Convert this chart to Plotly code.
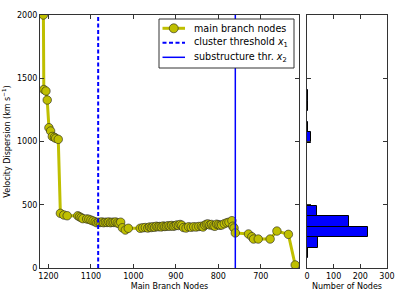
import plotly.graph_objects as go

# Main branch nodes (node index, velocity dispersion km/s)
node_x = [1212, 1211, 1206, 1203, 1199, 1195, 1191, 1186, 1183, 1177,
          1172, 1164, 1156, 1131, 1127, 1123, 1119, 1110, 1105, 1100,
          1095, 1090, 1086, 1082, 1078, 1074, 1070, 1066, 1062, 1058,
          1054, 1050, 1046, 1042, 1038, 1034, 1030, 1026, 1019, 1012,
          984, 978, 972, 966, 962, 958, 954, 950, 946, 942,
          938, 934, 930, 926, 922, 918, 914, 910, 906, 902,
          898, 894, 890, 886, 882, 876, 870, 864, 858, 852,
          846, 840, 836, 832, 828, 824, 820, 816, 812, 808,
          804, 800, 796, 792, 786, 780, 775, 768, 766, 763,
          760, 729, 721, 717, 706, 678, 662, 635, 619]
node_y = [2000, 1411, 1399, 1328, 1109, 1083, 1040, 1033, 1025, 1017,
          432, 419, 413, 413, 405, 398, 390, 388, 385, 378,
          372, 365, 358, 362, 360, 364, 358, 362, 360, 364,
          358, 362, 360, 364, 356, 352, 362, 318, 300, 314,
          314, 318, 320, 316, 324, 320, 326, 322, 330, 326,
          328, 325, 332, 328, 330, 334, 330, 336, 330, 334,
          340, 336, 344, 338, 320, 316, 326, 322, 326, 324,
          328, 330, 324, 338, 346, 348, 340, 344, 334, 330,
          346, 342, 338, 340, 350, 358, 362, 374, 330, 316,
          277, 269, 247, 229, 229, 229, 292, 266, 24]

cluster_threshold = 1083
substructure_threshold = 760

# Histogram of all nodes
hist_lo = [-5, 78, 161, 244, 327, 410, 991, 1074, 1240, 1323]
hist_counts = [1, 3, 41, 230, 159, 37, 16, 2, 2, 2]
bin_width = 83

legend_labels = ["main branch nodes",
                 "cluster threshold <i>x</i><sub>1</sub>",
                 "substructure thr. <i>x</i><sub>2</sub>"]

FONT = "DejaVu Sans"
AX = "#333333"
YEL = "#bfbf00"
BLUE = "#0000ff"
W, H = 399, 299


def px(x):
    return x / W


def py(y):
    return 1 - y / H


fig = go.Figure()

fig.add_trace(go.Scatter(
    x=node_x, y=node_y, mode="lines+markers", name=legend_labels[0],
    line=dict(color=YEL, width=3),
    marker=dict(color=YEL, size=8.5, line=dict(color="#222222", width=0.6)),
    xaxis="x", yaxis="y", showlegend=False))

fig.add_trace(go.Scatter(
    x=[cluster_threshold, cluster_threshold], y=[0, 2000], mode="lines",
    name=legend_labels[1],
    line=dict(color=BLUE, width=2, dash="4px,2.5px"),
    xaxis="x", yaxis="y", showlegend=False))

fig.add_trace(go.Scatter(
    x=[substructure_threshold, substructure_threshold], y=[0, 2000], mode="lines",
    name=legend_labels[2],
    line=dict(color=BLUE, width=1.5),
    xaxis="x", yaxis="y", showlegend=False))

fig.add_trace(go.Bar(
    x=hist_counts, y=[lo + bin_width / 2 for lo in hist_lo], width=bin_width,
    orientation="h", marker=dict(color=BLUE, line=dict(color="black", width=1)),
    showlegend=False, xaxis="x2", yaxis="y2"))

common = dict(showline=True, linecolor=AX, linewidth=1, mirror="ticks",
              ticks="inside", ticklen=4, tickcolor=AX, showgrid=False,
              zeroline=False, automargin=False,
              tickfont=dict(family=FONT, size=8, color="black"))

ydom = [31 / H, 284 / H]

# Legend box drawn as layout shapes + annotations (matplotlib-style compact legend)
box = dict(left=159, right=294, top=19, bottom=68)
rows = [28.3, 42.7, 57.3]
key_x0, key_x1, text_x = 162.5, 185, 192

shapes = [dict(type="rect", xref="paper", yref="paper",
               x0=px(box["left"]), x1=px(box["right"]),
               y0=py(box["bottom"]), y1=py(box["top"]),
               fillcolor="white", line=dict(color=AX, width=1), layer="above")]
shapes.append(dict(type="line", xref="paper", yref="paper",
                   x0=px(key_x0), x1=px(key_x1), y0=py(rows[0]), y1=py(rows[0]),
                   line=dict(color=YEL, width=3)))
mx = (key_x0 + key_x1) / 2
shapes.append(dict(type="circle", xref="paper", yref="paper",
                   x0=px(mx - 4.5), x1=px(mx + 4.5),
                   y0=py(rows[0] + 4.5), y1=py(rows[0] - 4.5),
                   fillcolor=YEL, line=dict(color="#222222", width=0.6)))
shapes.append(dict(type="line", xref="paper", yref="paper",
                   x0=px(key_x0), x1=px(key_x1), y0=py(rows[1]), y1=py(rows[1]),
                   line=dict(color=BLUE, width=2, dash="4px,2.5px")))
shapes.append(dict(type="line", xref="paper", yref="paper",
                   x0=px(key_x0), x1=px(key_x1), y0=py(rows[2]), y1=py(rows[2]),
                   line=dict(color=BLUE, width=1.5)))

annotations = [dict(text=lab, xref="paper", yref="paper", x=px(text_x), y=py(r),
                    xanchor="left", yanchor="middle", showarrow=False,
                    font=dict(family=FONT, size=9.6, color="black"))
               for lab, r in zip(legend_labels, rows)]

fig.update_layout(
    width=W, height=H,
    margin=dict(l=0, r=0, t=0, b=0),
    paper_bgcolor="white", plot_bgcolor="white",
    font=dict(family=FONT, size=8, color="black"),
    showlegend=False,
    xaxis=dict(domain=[40 / W, 299 / W], range=[1220, 610],
               tickvals=[1200, 1100, 1000, 900, 800, 700],
               title=dict(text="Main Branch Nodes", standoff=3,
                          font=dict(family=FONT, size=8)),
               anchor="y", **common),
    yaxis=dict(domain=ydom, range=[0, 2000],
               tickvals=[0, 500, 1000, 1500, 2000],
               title=dict(text="Velocity Dispersion (km s<sup>\u22121</sup>)",
                          standoff=5, font=dict(family=FONT, size=8)),
               anchor="x", **common),
    xaxis2=dict(domain=[307 / W, 387 / W], range=[0, 300],
                tickvals=[0, 100, 200, 300],
                title=dict(text="Number of Nodes", standoff=3,
                           font=dict(family=FONT, size=8)),
                anchor="y2", **common),
    yaxis2=dict(domain=ydom, range=[0, 2000],
                tickvals=[500, 1000, 1500], showticklabels=False,
                anchor="x2", **common),
    shapes=shapes,
    annotations=annotations,
    bargap=0,
)

fig.write_html("out.html", config={"displayModeBar": False},
               post_script="document.body.style.margin='0';document.body.style.padding='0';")
